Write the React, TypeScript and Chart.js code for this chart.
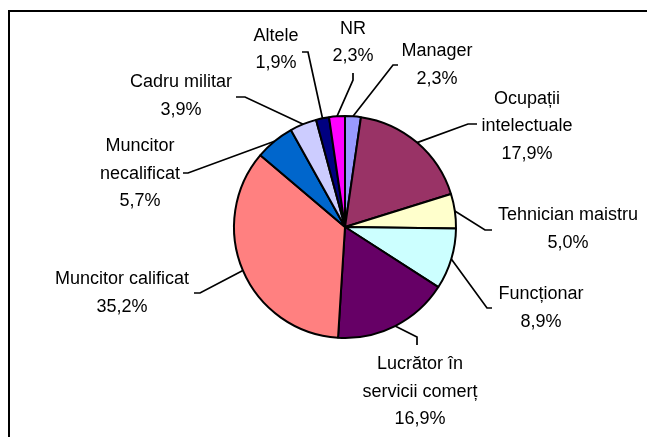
import React, { useEffect, useRef } from 'react';
import { Chart, registerables } from 'chart.js';

Chart.register(...registerables);

// ---- data ----
const categories = [
  'Manager',
  'Ocupații\nintelectuale',
  'Tehnician maistru',
  'Funcționar',
  'Lucrător în\nservicii comerț',
  'Muncitor calificat',
  'Muncitor\nnecalificat',
  'Cadru militar',
  'Altele',
  'NR',
];
const values = [2.3, 17.9, 5.0, 8.9, 16.9, 35.2, 5.7, 3.9, 1.9, 2.3];

// ---- styles / layout (kept separate from data) ----
const colors = [
  '#9999FF',
  '#993366',
  '#FFFFCC',
  '#CCFFFF',
  '#660066',
  '#FF8080',
  '#0066CC',
  '#CCCCFF',
  '#000080',
  '#FF00FF',
];
// label centre (first line), relative to pie centre
const labelOffsets: [number, number][] = [
  [92, -177],
  [182, -129.5],
  [223, -13],
  [196, 66],
  [75, 136],
  [-223, 51],
  [-205, -82],
  [-164, -146],
  [-69, -192.5],
  [8, -199.5],
];
// leader line elbow and end, relative to pie centre
const elbowOffsets: [number, number][] = [
  [48, -162],
  [123, -103],
  [140, 3],
  [142, 81],
  [72, 110],
  [-145, 66],
  [-157, -54],
  [-100, -130],
  [-37, -175],
  [8, -147],
];
const endOffsets: [number, number][] = [
  [53, -162],
  [132, -103],
  [147, 3],
  [147, 81],
  [72, 118],
  [-151, 66],
  [-162, -54],
  [-109, -130],
  [-43, -175],
  [8, -154],
];

const FONT = '18px "Liberation Sans", Arial, sans-serif';
const LINE_H = 27.5;

const fmt = (v: number) => v.toFixed(1).replace('.', ',') + '%';

const labelPlugin = {
  id: 'outLabels',
  beforeDraw(chart: any) {
    const ctx = chart.ctx;
    ctx.save();
    ctx.strokeStyle = '#000';
    ctx.lineWidth = 2;
    ctx.strokeRect(9, 11, 700, 500);
    ctx.restore();
  },
  afterDraw(chart: any) {
    const ctx = chart.ctx;
    const meta = chart.getDatasetMeta(0);
    ctx.save();
    ctx.font = FONT;
    ctx.fillStyle = '#000';
    ctx.textAlign = 'center';
    ctx.textBaseline = 'alphabetic';
    ctx.strokeStyle = '#000';
    ctx.lineWidth = 1.7;
    meta.data.forEach((arc: any, i: number) => {
      const { x, y, startAngle, endAngle, outerRadius } = arc.getProps(
        ['x', 'y', 'startAngle', 'endAngle', 'outerRadius'],
        true
      );
      const mid = (startAngle + endAngle) / 2;
      const sx = x + Math.cos(mid) * outerRadius;
      const sy = y + Math.sin(mid) * outerRadius;
      const [ex, ey] = elbowOffsets[i];
      const [tx, ty] = endOffsets[i];
      ctx.beginPath();
      ctx.moveTo(sx, sy);
      ctx.lineTo(x + ex, y + ey);
      ctx.lineTo(x + tx, y + ty);
      ctx.stroke();

      const lines = categories[i].split('\n').concat([fmt(values[i])]);
      const [lx, ly] = labelOffsets[i];
      lines.forEach((t, k) => {
        ctx.fillText(t, x + lx, y + ly + k * LINE_H + 6.4);
      });
    });
    ctx.restore();
  },
};

export default function App() {
  const ref = useRef<HTMLCanvasElement>(null);
  useEffect(() => {
    document.body.style.margin = '0';
    const canvas = ref.current;
    if (!canvas) return;
    const chart = new Chart(canvas, {
      type: 'pie',
      data: {
        labels: categories,
        datasets: [
          {
            data: values,
            backgroundColor: colors,
            borderColor: '#000',
            borderWidth: 2,
            radius: 111,
          } as any,
        ],
      },
      options: {
        animation: false,
        responsive: false,
        maintainAspectRatio: false,
        layout: { padding: { left: 43, right: 0, top: 17, bottom: 0 } },
        plugins: {
          legend: { display: false },
          tooltip: { enabled: false },
        },
      },
      plugins: [labelPlugin],
    });
    return () => chart.destroy();
  }, []);
  return (
    <div style={{ width: 647, height: 437 }}>
      <canvas ref={ref} width={647} height={437} style={{ width: 647, height: 437, display: 'block' }} />
    </div>
  );
}
